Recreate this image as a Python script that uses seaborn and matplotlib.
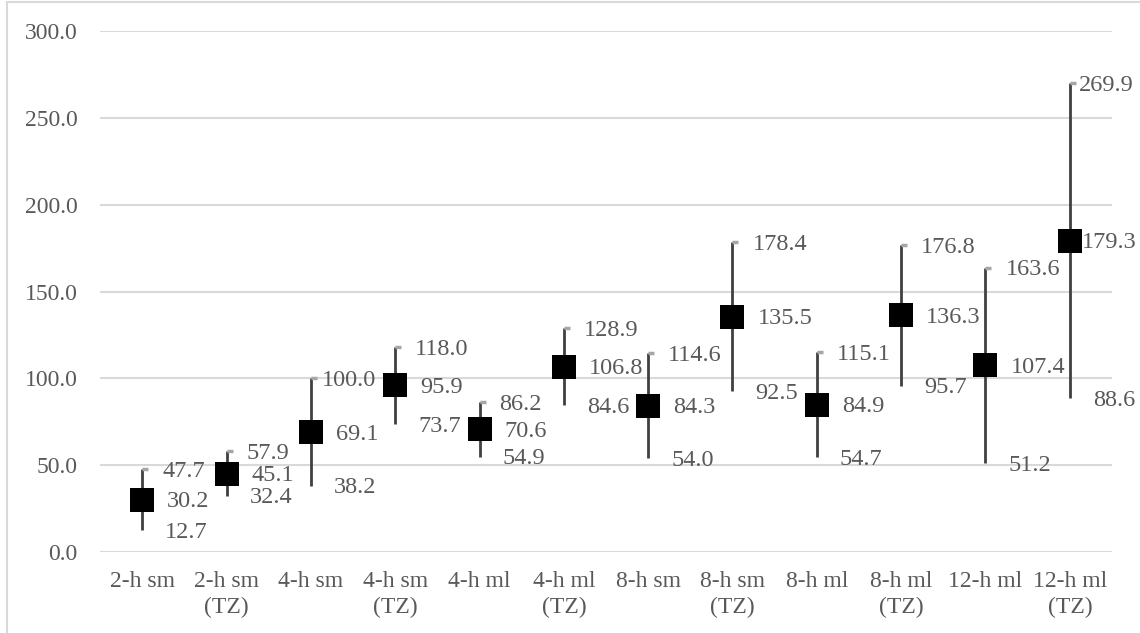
import matplotlib
matplotlib.use("Agg")
import matplotlib.pyplot as plt
import matplotlib.markers as mmarkers
from matplotlib.patches import Rectangle
import seaborn as sns
import pandas as pd

categories = ["2-h sm", "2-h sm\n(TZ)", "4-h sm", "4-h sm\n(TZ)", "4-h ml", "4-h ml\n(TZ)",
              "8-h sm", "8-h sm\n(TZ)", "8-h ml", "8-h ml\n(TZ)", "12-h ml", "12-h ml\n(TZ)"]
high = [47.7, 57.9, 100.0, 118.0, 86.2, 128.9, 114.6, 178.4, 115.1, 176.8, 163.6, 269.9]
mean = [30.2, 45.1, 69.1, 95.9, 70.6, 106.8, 84.3, 135.5, 84.9, 136.3, 107.4, 179.3]
low = [12.7, 32.4, 38.2, 73.7, 54.9, 84.6, 54.0, 92.5, 54.7, 95.7, 51.2, 88.6]

df = pd.DataFrame({"cat": categories, "high": high, "mean": mean, "low": low})

sns.set_style("white")
plt.rcParams["font.family"] = ["Liberation Serif", "DejaVu Serif"]
text_color = "#595959"

fig = plt.figure(figsize=(11.4, 6.33), dpi=100)
ax = fig.add_axes([100 / 1140, 1 - 552 / 633, 1012 / 1140, 521 / 633])

# outer chart border
fig.patches.append(Rectangle((7 / 1140, -0.1), 1.2, 1.1 - 2 / 633, transform=fig.transFigure,
                             fill=False, edgecolor="#d9d9d9", linewidth=1.5))

x = range(len(categories))
ax.vlines(x, df["low"], df["high"], color="#404040", linewidth=2, zorder=2)
ax.plot(x, df["high"], linestyle="none", marker=mmarkers.TICKRIGHT, markersize=4,
        markeredgewidth=2.5, color="#a6a6a6", zorder=2)
sns.scatterplot(data=df, x="cat", y="mean", marker="s", s=310, color="black",
                edgecolor="black", linewidth=0, ax=ax, zorder=3)

# data labels (pixel offsets to the right)
hi_off = {2: 11, 11: 9}
mean_off = {11: 12}
for i in x:
    for val, off in ((high[i], hi_off.get(i, 20)), (mean[i], mean_off.get(i, 25)), (low[i], 23)):
        ax.annotate(f"{val:.1f}", (i, val), xytext=(off * 0.72, -1.5), textcoords="offset points",
                    ha="left", va="center", fontsize=17.5, color=text_color)

ax.set_ylim(0, 300)
ax.set_xlim(-0.5, len(categories) - 0.5)
ax.set_yticks(range(0, 301, 50))
ax.set_yticklabels([f"{v:.1f}" for v in range(0, 301, 50)])
ax.yaxis.grid(True, color="#d9d9d9", linewidth=1.5)
ax.set_axisbelow(True)
for s in ax.spines.values():
    s.set_visible(False)
ax.tick_params(axis="y", length=0, pad=16, labelsize=17, labelcolor=text_color)
ax.tick_params(axis="x", length=0, pad=14, labelsize=17, labelcolor=text_color)
for t in ax.get_xticklabels():
    t.set_linespacing(1.3)
ax.set_xlabel("")
ax.set_ylabel("")

fig.savefig("out.png", dpi=100)
